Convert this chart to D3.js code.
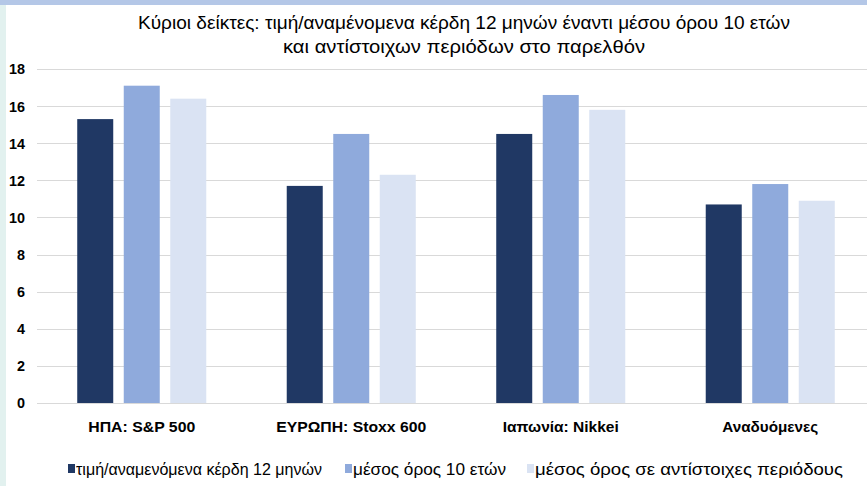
<!DOCTYPE html>
<html>
<head>
<meta charset="utf-8">
<script src="https://cdn.jsdelivr.net/npm/d3@7"></script>
<style>
  body { margin: 0; background: #ffffff; }
  svg text { font-family: "Liberation Sans", Arial, sans-serif; fill: #000; }
</style>
</head>
<body>
<div id="chart"></div>
<script>
// categories and series
var categories = ["ΗΠΑ: S&P 500", "ΕΥΡΩΠΗ: Stoxx 600", "Ιαπωνία: Nikkei", "Αναδυόμενες"];
var seriesNames = ["τιμή/αναμενόμενα κέρδη 12 μηνών", "μέσος όρος 10 ετών", "μέσος όρος σε αντίστοιχες περιόδους"];
var peNow = [15.3, 11.7, 14.5, 10.7];
var avg10y = [17.1, 14.5, 16.6, 11.8];
var avgSimilar = [16.4, 12.3, 15.8, 10.9];
var yTicks = [0, 2, 4, 6, 8, 10, 12, 14, 16, 18];
var colors = ["#203864", "#8faadc", "#dae3f3"];
var titleLines = ["Κύριοι δείκτες: τιμή/αναμένομενα κέρδη 12 μηνών έναντι μέσου όρου 10 ετών",
                  "και αντίστοιχων περιόδων στο παρελθόν"];

// the source font is a condensed one, so squeeze the text to the widths seen
var titleLen = [652, 362];
var catLen = [107, 150, 116, 96];
var legendX = [68, 345, 527];
var legendLen = [246, 153, 308];

var W = 867, H = 486;
var margin = { top: 69, right: -8, bottom: 83, left: 37 };
var width = W - margin.left - margin.right;
var height = H - margin.top - margin.bottom;

var svg = d3.select("#chart").append("svg")
    .attr("width", W)
    .attr("height", H);

// frame bits around the crop
svg.append("rect").attr("x", 0).attr("y", 0).attr("width", 6).attr("height", H).attr("fill", "#e2f1ef");
svg.append("rect").attr("x", 0).attr("y", 0).attr("width", W).attr("height", 5).attr("fill", "#b4c7e7");

var g = svg.append("g")
    .attr("transform", "translate(" + margin.left + "," + margin.top + ")");

var x0 = d3.scaleBand().domain(categories).range([0, width]);
var x1 = d3.scaleBand().domain([0, 1, 2]).range([0, x0.bandwidth()]).paddingInner(0.226).paddingOuter(0.865);
var y = d3.scaleLinear().domain([0, 18]).range([height, 0]);

// gridlines
g.append("g").selectAll("line")
    .data(yTicks)
    .enter().append("line")
    .attr("x1", 0)
    .attr("x2", width)
    .attr("y1", function(d) { return Math.round(y(d)) + 0.5; })
    .attr("y2", function(d) { return Math.round(y(d)) + 0.5; })
    .attr("stroke", "#d9d9d9")
    .attr("stroke-width", 1.2);

// y labels
g.append("g").selectAll("text")
    .data(yTicks)
    .enter().append("text")
    .attr("x", -12)
    .attr("y", function(d) { return y(d); })
    .attr("dy", "0.36em")
    .attr("text-anchor", "end")
    .style("font-size", "15px")
    .style("font-weight", "bold")
    .attr("textLength", function(d) { return d < 10 ? 8 : 16; })
    .attr("lengthAdjust", "spacingAndGlyphs")
    .text(function(d) { return d; });

var rows = categories.map(function(c, i) {
    return { cat: c, vals: [peNow[i], avg10y[i], avgSimilar[i]] };
});

var groups = g.append("g").selectAll("g")
    .data(rows)
    .enter().append("g")
    .attr("transform", function(d) { return "translate(" + x0(d.cat) + ",0)"; });

groups.selectAll("rect")
    .data(function(d) { return d.vals.map(function(v, k) { return { k: k, v: v }; }); })
    .enter().append("rect")
    .attr("x", function(d) { return x1(d.k); })
    .attr("width", x1.bandwidth())
    .attr("y", function(d) { return y(d.v); })
    .attr("height", function(d) { return height - y(d.v); })
    .attr("fill", function(d) { return colors[d.k]; });

// category labels
g.append("g").selectAll("text")
    .data(categories)
    .enter().append("text")
    .attr("x", function(d) { return x0(d) + x0.bandwidth() / 2; })
    .attr("y", height + 29)
    .attr("text-anchor", "middle")
    .style("font-size", "15px")
    .style("font-weight", "bold")
    .attr("textLength", function(d, i) { return catLen[i]; })
    .attr("lengthAdjust", "spacingAndGlyphs")
    .text(function(d) { return d; });

// title
svg.selectAll(".title")
    .data(titleLines)
    .enter().append("text")
    .attr("class", "title")
    .attr("x", 464)
    .attr("y", function(d, i) { return 29 + i * 24; })
    .attr("text-anchor", "middle")
    .style("font-size", "18px")
    .attr("textLength", function(d, i) { return titleLen[i]; })
    .attr("lengthAdjust", "spacingAndGlyphs")
    .text(function(d) { return d; });

// legend
var legend = svg.append("g").selectAll("g")
    .data(seriesNames)
    .enter().append("g")
    .attr("transform", function(d, i) { return "translate(" + legendX[i] + ",464)"; });

legend.append("rect")
    .attr("width", 7)
    .attr("height", 9)
    .attr("fill", function(d, i) { return colors[i]; });

legend.append("text")
    .attr("x", 8)
    .attr("y", 11)
    .style("font-size", "16px")
    .attr("textLength", function(d, i) { return legendLen[i]; })
    .attr("lengthAdjust", "spacingAndGlyphs")
    .text(function(d) { return d; });
</script>
</body>
</html>
